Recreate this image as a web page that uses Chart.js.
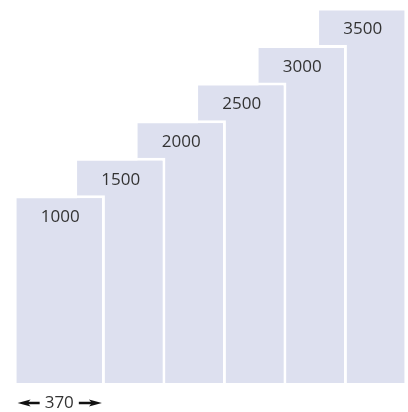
<!DOCTYPE html>
<html>
<head>
<meta charset="utf-8">
<script src="https://cdn.jsdelivr.net/npm/chart.js@4.4.1/dist/chart.umd.min.js"></script>
<style>
    html, body { margin: 0; padding: 0; background: #fff; }
    #wrap { width: 408px; height: 412px; position: relative; }
</style>
</head>
<body>
<div id="wrap"><canvas id="stepChart"></canvas></div>
<script>
// Chart data
const categories = ['1', '2', '3', '4', '5', '6'];
const values = [1000, 1500, 2000, 2500, 3000, 3500];
const axisMin = -1500;
const axisMax = 3600;
const widthLabel = '370';

const barColor = 'rgb(221, 224, 239)';
const textColor = '#333333';
const labelFont = '17px "Open Sans", "Noto Sans", sans-serif';

// One dataset per bar so that the first bar is painted on top of the next one
function buildDatasets() {
    return values.map((v, i) => ({
        data: values.map((val, j) => (j === i ? val : null)),
        base: axisMin,
        backgroundColor: barColor,
        borderColor: '#ffffff',
        borderWidth: 3,
        borderSkipped: 'start',
        grouped: false,
        clip: false,
        barPercentage: 1.51,
        categoryPercentage: 1
    }));
}

// Value labels near the top of each bar
const valueLabels = {
    id: 'valueLabels',
    afterDatasetsDraw(chart) {
        const ctx = chart.ctx;
        ctx.save();
        ctx.font = labelFont;
        ctx.fillStyle = textColor;
        ctx.textAlign = 'center';
        ctx.textBaseline = 'middle';
        values.forEach((v, i) => {
            const el = chart.getDatasetMeta(i).data[i];
            if (!el) return;
            ctx.fillText(String(v), el.x + 1, el.y + 22);
        });
        ctx.restore();
    }
};

// Width marker under the first bar
const widthMarker = {
    id: 'widthMarker',
    afterDraw(chart) {
        const el = chart.getDatasetMeta(0).data[0];
        if (!el) return;
        const ctx = chart.ctx;
        const left = el.x - el.width / 2 + 4;
        const right = el.x + el.width / 2 - 3;
        const y = chart.chartArea.bottom + 20;

        ctx.save();
        ctx.font = labelFont;
        ctx.fillStyle = textColor;
        ctx.textAlign = 'center';
        ctx.textBaseline = 'middle';
        ctx.fillText(widthLabel, el.x, y);
        const tw = ctx.measureText(widthLabel).width;

        ctx.strokeStyle = '#111111';
        ctx.fillStyle = '#111111';
        ctx.lineWidth = 2.5;
        const drawArrow = (from, to) => {
            const dir = Math.sign(to - from);
            ctx.beginPath();
            ctx.moveTo(from, y);
            ctx.lineTo(to - dir * 9, y);
            ctx.stroke();
            ctx.beginPath();
            ctx.moveTo(to, y);
            ctx.lineTo(to - dir * 13, y - 3.5);
            ctx.lineTo(to - dir * 10, y);
            ctx.lineTo(to - dir * 13, y + 3.5);
            ctx.closePath();
            ctx.fill();
        };
        drawArrow(el.x - tw / 2 - 5, left);
        drawArrow(el.x + tw / 2 + 5, right);
        ctx.restore();
    }
};

function initializeChart() {
    const ctx = document.getElementById('stepChart');
    new Chart(ctx, {
        type: 'bar',
        data: {
            labels: categories,
            datasets: buildDatasets()
        },
        options: {
            responsive: true,
            maintainAspectRatio: false,
            animation: false,
            layout: {
                padding: { left: 29, right: 16, top: 0, bottom: 29 }
            },
            scales: {
                x: { display: false },
                y: { display: false, min: axisMin, max: axisMax }
            },
            plugins: {
                legend: { display: false },
                tooltip: { enabled: false }
            }
        },
        plugins: [valueLabels, widthMarker]
    });
}

document.addEventListener('DOMContentLoaded', initializeChart);
</script>
</body>
</html>
